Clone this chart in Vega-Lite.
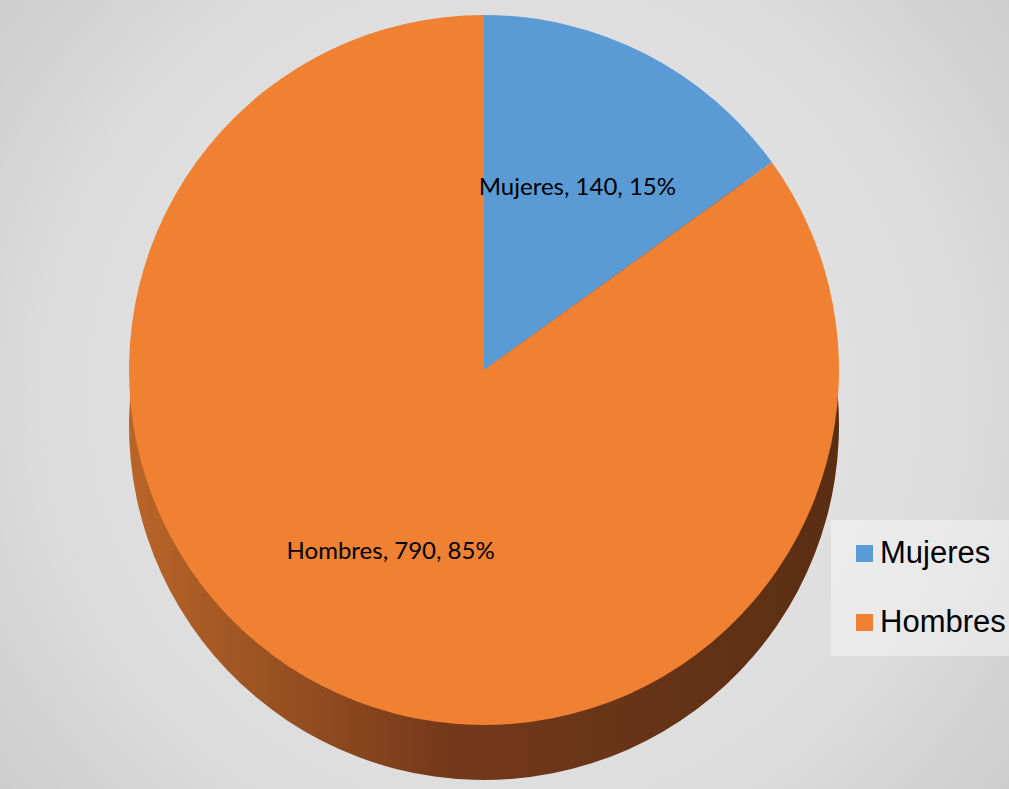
{
  "$schema": "https://vega.github.io/schema/vega-lite/v6.json",
  "width": 1009,
  "height": 789,
  "autosize": {"type": "fit", "contains": "padding"},
  "padding": 0,
  "background": "#d6d6d6",
  "view": {
    "stroke": null,
    "fill": {
      "gradient": "radial",
      "x1": 0.5, "y1": 0.5, "r1": 0,
      "x2": 0.5, "y2": 0.5, "r2": 0.75,
      "stops": [
        {"offset": 0, "color": "#ececec"},
        {"offset": 0.6, "color": "#dcdcdc"},
        {"offset": 1, "color": "#c4c4c4"}
      ]
    }
  },
  "data": {
    "values": [
      {"categoria": "Mujeres", "valor": 140, "etiqueta": "Mujeres, 140, 15%"},
      {"categoria": "Hombres", "valor": 790, "etiqueta": "Hombres, 790, 85%"}
    ]
  },
  "encoding": {
    "theta": {"field": "valor", "type": "quantitative", "stack": true},
    "order": {"field": "categoria", "sort": "descending"},
    "x": {"value": 484},
    "y": {"value": 370}
  },
  "layer": [
    {
      "mark": {
        "type": "arc",
        "radius": 355,
        "yOffset": 55,
        "fill": {
          "gradient": "linear",
          "x1": 0, "y1": 0, "x2": 1, "y2": 0,
          "stops": [
            {"offset": 0, "color": "#b96528"},
            {"offset": 0.45, "color": "#74391a"},
            {"offset": 1, "color": "#5a2e13"}
          ]
        }
      }
    },
    {
      "mark": {"type": "arc", "radius": 355},
      "encoding": {
        "color": {
          "field": "categoria",
          "type": "nominal",
          "scale": {"domain": ["Mujeres", "Hombres"], "range": ["#5b9bd5", "#f08032"]},
          "legend": {
            "title": null,
            "orient": "none",
            "legendX": 831,
            "legendY": 520,
            "fillColor": "rgba(255,255,255,0.4)",
            "padding": 18,
            "symbolType": "square",
            "symbolSize": 289,
            "symbolStrokeWidth": 0,
            "labelFont": "Liberation Sans",
            "labelFontSize": 31,
            "labelColor": "#000000",
            "labelOffset": 0,
            "rowPadding": 37,
            "labelLimit": 300
          }
        }
      }
    },
    {
      "mark": {"type": "text", "radius": 205, "font": "Lato", "fontSize": 24, "color": "#000000"},
      "encoding": {
        "text": {"field": "etiqueta", "type": "nominal"}
      }
    }
  ]
}
